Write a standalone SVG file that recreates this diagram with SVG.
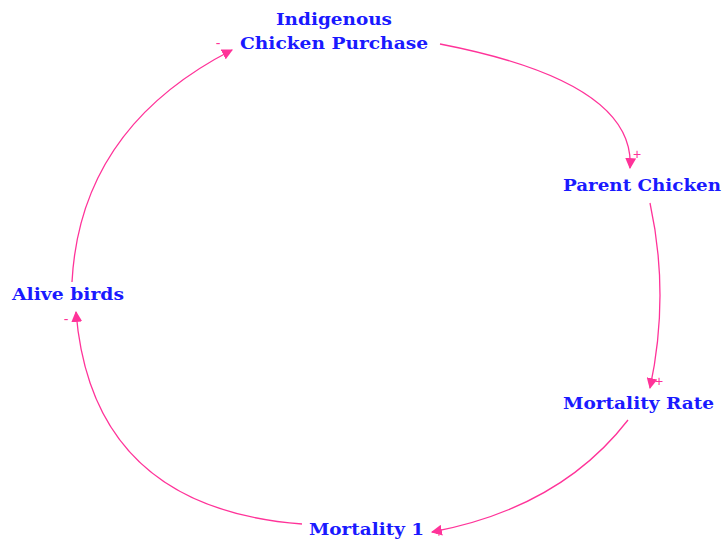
<svg xmlns="http://www.w3.org/2000/svg" width="723" height="540" viewBox="0 0 723 540">
<style>
.lbl{font-family:"DejaVu Serif","Liberation Serif",serif;font-weight:bold;font-size:16.5px;fill:#1a1aff;text-anchor:start}
.c{fill:none;stroke:#ff3399;stroke-width:1.3}
.pol{font-family:"Liberation Sans",sans-serif;font-size:14px;fill:#ff3399;text-anchor:middle}
</style>
<defs>
<marker id="ah" viewBox="0 0 10 10" refX="9" refY="5" markerWidth="11" markerHeight="11" markerUnits="userSpaceOnUse" orient="auto">
<path d="M0,0 L10,5 L0,10 z" fill="#ff3399"/>
</marker>
</defs>
<rect width="723" height="540" fill="#fff"/>
<g id="connectors">
<path class="c" d="M440,44 Q636,82 630,168" marker-end="url(#ah)"/>
<path class="c" d="M650,203 Q670,295 650,388" marker-end="url(#ah)"/>
<path class="c" d="M628,420 Q560,508 432,532" marker-end="url(#ah)"/>
<path class="c" d="M302,524 Q92,508 76,312" marker-end="url(#ah)"/>
<path class="c" d="M72,282 Q80,128 232,50" marker-end="url(#ah)"/>
<text class="pol" x="637" y="159">+</text>
<text class="pol" x="659" y="386">+</text>
<text class="pol" x="439" y="537" style="font-size:11px">+</text>
<text class="pol" x="66" y="324">-</text>
<text class="pol" x="218" y="48">-</text>
</g>
<g id="indigenous-chicken-purchase"><text class="lbl" x="276" y="25" textLength="116" lengthAdjust="spacingAndGlyphs">Indigenous</text><text class="lbl" x="240" y="49" textLength="188" lengthAdjust="spacingAndGlyphs">Chicken Purchase</text></g>
<g id="parent-chicken"><text class="lbl" x="563" y="191" textLength="158" lengthAdjust="spacingAndGlyphs">Parent Chicken</text></g>
<g id="mortality-rate"><text class="lbl" x="563" y="409" textLength="151" lengthAdjust="spacingAndGlyphs">Mortality Rate</text></g>
<g id="mortality-1"><text class="lbl" x="309" y="535" textLength="115" lengthAdjust="spacingAndGlyphs">Mortality 1</text></g>
<g id="alive-birds"><text class="lbl" x="12" y="300" textLength="112" lengthAdjust="spacingAndGlyphs">Alive birds</text></g>
</svg>
